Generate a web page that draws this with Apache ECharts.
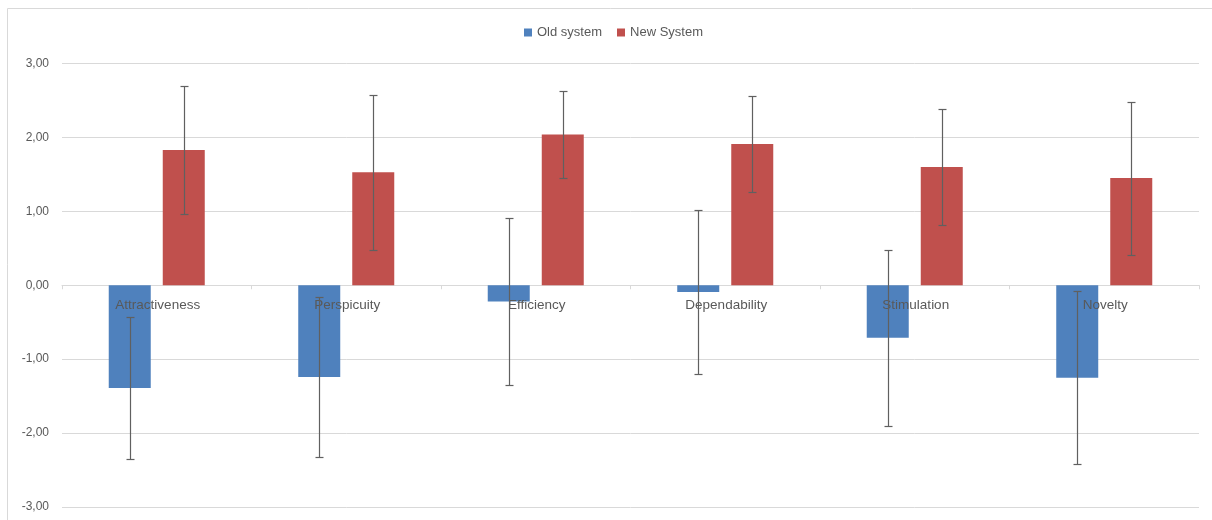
<!DOCTYPE html>
<html>
<head>
<meta charset="utf-8">
<style>
  html, body { margin: 0; padding: 0; background: #fff; }
  #chart { width: 1212px; height: 520px; }
</style>
<script src="https://cdn.jsdelivr.net/npm/echarts@6/dist/echarts.min.js"></script>
</head>
<body>
<div id="chart"></div>
<script>
// UEQ scale means with confidence intervals, old vs new system
const categories = ['Attractiveness', 'Perspicuity', 'Efficiency', 'Dependability', 'Stimulation', 'Novelty'];
const seriesNames = ['Old system', 'New System'];
const oldMean = [-1.39, -1.24, -0.22, -0.09, -0.71, -1.25];
const oldErr  = [0.96, 1.08, 1.13, 1.11, 1.19, 1.17];
const newMean = [1.83, 1.53, 2.04, 1.91, 1.60, 1.45];
const newErr  = [0.87, 1.05, 0.59, 0.645, 0.785, 1.035];
const yTicks = [-3, -2, -1, 0, 1, 2, 3];

const BAR_W = 42;
const BAR_GAP = 12;
const OFFSET = (BAR_W + BAR_GAP) / 2;

const labelFont = '"Liberation Sans", "DejaVu Sans", sans-serif';

const chart = echarts.init(document.getElementById('chart'), null, { renderer: 'canvas' });

function errorItems(means, errs) {
  return means.map((m, i) => [i, m - errs[i], m + errs[i]]);
}

function errorRenderer(offset) {
  return function (params, api) {
    const idx = api.value(0);
    const lo = api.coord([idx, api.value(1)]);
    const hi = api.coord([idx, api.value(2)]);
    const x = Math.round(lo[0] + offset) + 0.5;
    const yHi = Math.round(hi[1]) + 0.5;
    const yLo = Math.round(lo[1]) + 0.5;
    const cap = 4;
    const style = { stroke: '#606060', lineWidth: 1.2 };
    return {
      type: 'group',
      children: [
        { type: 'line', shape: { x1: x, y1: yHi, x2: x, y2: yLo }, style },
        { type: 'line', shape: { x1: x - cap, y1: yHi, x2: x + cap, y2: yHi }, style },
        { type: 'line', shape: { x1: x - cap, y1: yLo, x2: x + cap, y2: yLo }, style }
      ]
    };
  };
}

// category names sit just under the zero line, over the bars
function categoryLabel(params, api) {
  const idx = api.value(0);
  const p = api.coord([idx, 0]);
  return {
    type: 'text',
    x: p[0] + 1,
    y: p[1] + 13,
    style: {
      text: categories[idx],
      fill: '#595959',
      font: '13.5px ' + labelFont,
      align: 'center',
      verticalAlign: 'top'
    }
  };
}

chart.setOption({
  animation: false,
  textStyle: { fontFamily: labelFont },
  graphic: [{
    type: 'rect',
    shape: { x: 7.5, y: 8.5, width: 1260, height: 560 },
    style: { fill: 'none', stroke: '#d9d9d9', lineWidth: 1 },
    silent: true, z: -10
  }],
  legend: {
    top: 21,
    left: 519,
    data: seriesNames,
    icon: 'rect',
    itemWidth: 8,
    itemHeight: 8,
    itemGap: 15,
    textStyle: { color: '#595959', fontSize: 13, fontFamily: labelFont }
  },
  grid: { left: 62, right: 13, top: 63.5, bottom: 13, containLabel: false, outerBoundsMode: 'none' },
  xAxis: {
    type: 'category',
    data: categories,
    axisLine: { onZero: true, lineStyle: { color: '#d9d9d9', width: 1 } },
    axisTick: { show: true, alignWithLabel: false, length: 4, lineStyle: { color: '#d9d9d9' } },
    axisLabel: { show: false },
    splitLine: { show: false }
  },
  yAxis: {
    type: 'value',
    min: yTicks[0],
    max: yTicks[yTicks.length - 1],
    interval: 1,
    axisLine: { show: false },
    axisTick: { show: false },
    axisLabel: {
      color: '#595959', fontSize: 12, margin: 13, fontFamily: labelFont,
      formatter: v => v.toFixed(2).replace('.', ',')
    },
    splitLine: { lineStyle: { color: '#d9d9d9', width: 1 } }
  },
  series: [
    {
      name: seriesNames[0], type: 'bar', data: oldMean,
      barWidth: BAR_W, barGap: (BAR_GAP / BAR_W * 100).toFixed(1) + '%',
      itemStyle: { color: '#4f81bd' }, z: 2
    },
    {
      name: seriesNames[1], type: 'bar', data: newMean,
      barWidth: BAR_W,
      itemStyle: { color: '#c0504d' }, z: 2
    },
    {
      type: 'custom', name: 'labels', data: categories.map((c, i) => [i, 0]),
      renderItem: categoryLabel, z: 4, silent: true,
      encode: { x: 0, y: 1 }
    },
    {
      type: 'custom', name: 'oldErr', data: errorItems(oldMean, oldErr),
      renderItem: errorRenderer(-OFFSET), z: 5, silent: true,
      encode: { x: 0, y: [1, 2] }
    },
    {
      type: 'custom', name: 'newErr', data: errorItems(newMean, newErr),
      renderItem: errorRenderer(OFFSET), z: 5, silent: true,
      encode: { x: 0, y: [1, 2] }
    }
  ]
});
</script>
</body>
</html>
